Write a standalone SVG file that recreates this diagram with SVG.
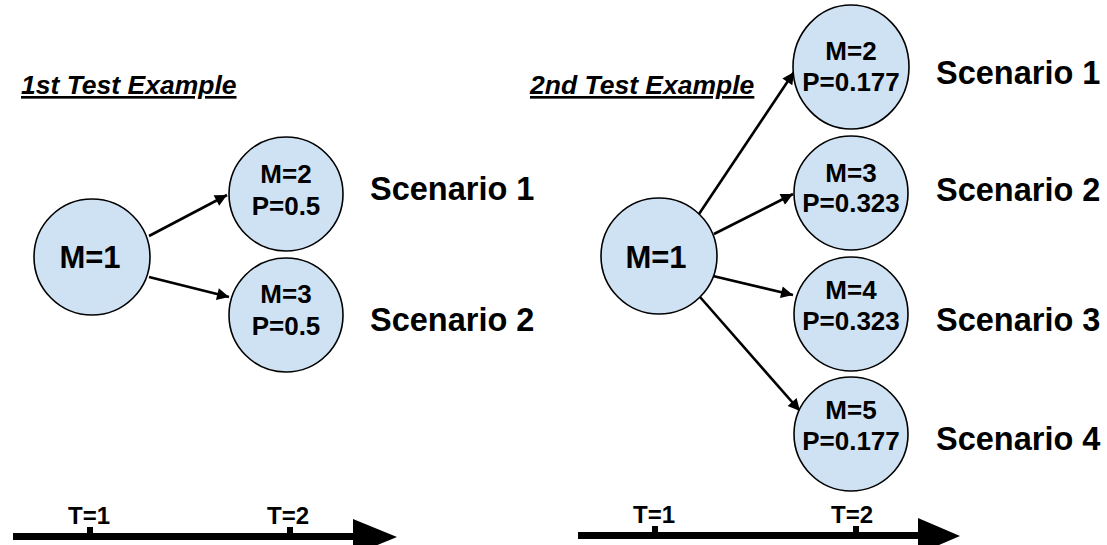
<svg xmlns="http://www.w3.org/2000/svg" width="1107" height="545" viewBox="0 0 1107 545">
  <style>
    text { font-family: "Liberation Sans", Arial, sans-serif; font-weight: bold; fill: #000; }
    .title { font-size: 26.5px; font-style: italic; text-decoration: underline; }
    .node { fill: #cfe2f3; stroke: #000; stroke-width: 1.6; }
    .big { font-size: 31px; text-anchor: middle; }
    .small { font-size: 26px; text-anchor: middle; }
    .scen { font-size: 32.5px; }
    .tlabel { font-size: 24px; text-anchor: middle; }
    .edge { stroke: #000; stroke-width: 2.6; fill: none; marker-end: url(#arrow); }
    .axis { stroke: #000; stroke-width: 7; fill: none; }
  </style>
  <defs>
    <marker id="arrow" viewBox="0 0 10 10" refX="10" refY="5" markerWidth="5.2" markerHeight="4.6" orient="auto" markerUnits="strokeWidth">
      <path d="M0,0 L10,5 L0,10 Z" fill="#000"/>
    </marker>
  </defs>

  <rect width="1107" height="545" fill="#fff"/>

  <!-- titles -->
  <text class="title" x="21" y="94">1st Test Example</text>
  <text class="title" x="530" y="94">2nd Test Example</text>

  <!-- connectors -->
  <g id="connectors">
    <line class="edge" x1="149" y1="236" x2="227" y2="195"/>
    <line class="edge" x1="149" y1="277" x2="229" y2="297"/>
    <line class="edge" x1="699" y1="214" x2="794" y2="72"/>
    <line class="edge" x1="714" y1="234" x2="793" y2="194"/>
    <line class="edge" x1="713" y1="276" x2="793" y2="295"/>
    <line class="edge" x1="700" y1="297" x2="800" y2="411"/>
  </g>

  <!-- first example -->
  <g id="a-m1">
    <circle class="node" cx="92" cy="257" r="58"/>
    <text class="big" x="90" y="268">M=1</text>
  </g>
  <g id="a-m2">
    <circle class="node" cx="286" cy="194" r="57"/>
    <text class="small" x="286" y="183">M=2</text>
    <text class="small" x="286" y="215">P=0.5</text>
  </g>
  <g id="a-m3">
    <circle class="node" cx="286" cy="315" r="57"/>
    <text class="small" x="286" y="303">M=3</text>
    <text class="small" x="286" y="335">P=0.5</text>
  </g>
  <text class="scen" x="370" y="200">Scenario 1</text>
  <text class="scen" x="370" y="331">Scenario 2</text>

  <!-- second example -->
  <g id="b-m1">
    <circle class="node" cx="659" cy="256" r="58"/>
    <text class="big" x="656" y="268">M=1</text>
  </g>
  <g id="b-m2">
    <ellipse class="node" cx="851" cy="67" rx="58" ry="62"/>
    <text class="small" x="851" y="60">M=2</text>
    <text class="small" x="851" y="91">P=0.177</text>
  </g>
  <g id="b-m3">
    <circle class="node" cx="851" cy="193" r="57"/>
    <text class="small" x="851" y="182">M=3</text>
    <text class="small" x="851" y="212">P=0.323</text>
  </g>
  <g id="b-m4">
    <circle class="node" cx="851" cy="314" r="57"/>
    <text class="small" x="851" y="299">M=4</text>
    <text class="small" x="851" y="330">P=0.323</text>
  </g>
  <g id="b-m5">
    <circle class="node" cx="851" cy="434" r="57"/>
    <text class="small" x="851" y="419">M=5</text>
    <text class="small" x="851" y="450">P=0.177</text>
  </g>
  <text class="scen" x="936" y="84">Scenario 1</text>
  <text class="scen" x="936" y="201">Scenario 2</text>
  <text class="scen" x="936" y="331">Scenario 3</text>
  <text class="scen" x="936" y="450">Scenario 4</text>

  <!-- time axes -->
  <g id="axis-a">
    <line class="axis" x1="13" y1="536.5" x2="356" y2="536.5"/>
    <path d="M353,519 L397,537 L353,555 Z" fill="#000"/>
    <rect x="87" y="527" width="6" height="7" fill="#000"/>
    <rect x="287" y="527" width="6" height="7" fill="#000"/>
    <text class="tlabel" x="89" y="524">T=1</text>
    <text class="tlabel" x="288" y="524">T=2</text>
  </g>
  <g id="axis-b">
    <line class="axis" x1="578" y1="535.5" x2="921" y2="535.5"/>
    <path d="M918,518 L960,536 L918,554 Z" fill="#000"/>
    <rect x="652" y="526" width="6" height="7" fill="#000"/>
    <rect x="853" y="526" width="6" height="7" fill="#000"/>
    <text class="tlabel" x="654" y="523">T=1</text>
    <text class="tlabel" x="852" y="523">T=2</text>
  </g>
</svg>
